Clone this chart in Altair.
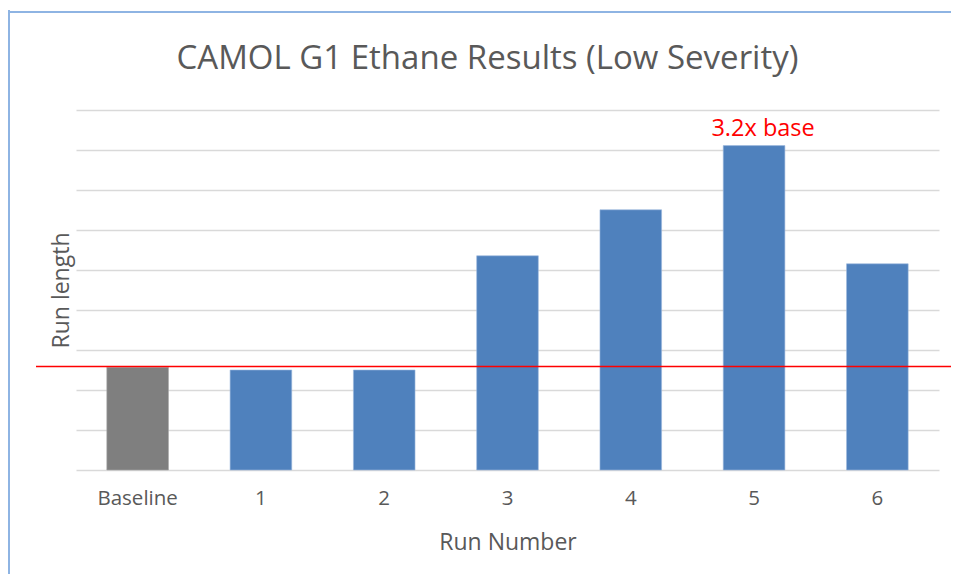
import altair as alt
import pandas as pd

runs = ["Baseline", "1", "2", "3", "4", "5", "6"]
run_length = [2.57, 2.5, 2.5, 5.355, 6.505, 8.11, 5.155]
kinds = ["base", "run", "run", "run", "run", "run", "run"]
baseline_level = [2.59]
note_run = ["5"]
note_text = ["3.2x base"]
grid_values = [0, 1, 2, 3, 4, 5, 6, 7, 8, 9]

FONT = "Open Sans"
GREY = "#595959"

df = pd.DataFrame({"run": runs, "value": run_length, "kind": kinds})
ref = pd.DataFrame({"level": baseline_level})
note = pd.DataFrame({"run": note_run, "text": note_text,
                     "value": [run_length[runs.index(r)] for r in note_run]})

y_scale = alt.Scale(domain=[0, 9], nice=False)
x_scale = alt.Scale(domain=runs, paddingInner=0.5, paddingOuter=0.25)
x_axis = alt.Axis(title="Run Number", labelAngle=0, domain=False, ticks=False,
                  labelFont=FONT, labelFontSize=20.5, labelColor=GREY,
                  labelPadding=18, titleFont=FONT, titleFontSize=23,
                  titleFontWeight="normal", titleColor=GREY, titlePadding=23)
y_axis = alt.Axis(title="Run length", values=grid_values, labels=False,
                  ticks=False, domain=False, grid=True, gridColor="#D9D9D9",
                  gridWidth=1.5, titleFont=FONT, titleFontSize=23,
                  titleFontWeight="normal", titleColor=GREY, titlePadding=3)

bars = alt.Chart(df).mark_bar(strokeWidth=1, strokeOpacity=0.6).encode(
    x=alt.X("run:N", sort=runs, scale=x_scale, axis=x_axis),
    y=alt.Y("value:Q", scale=y_scale, axis=y_axis),
    color=alt.Color("kind:N", scale=alt.Scale(domain=["base", "run"],
                                              range=["#7F7F7F", "#4F81BD"]), legend=None),
    stroke=alt.Stroke("kind:N", scale=alt.Scale(domain=["base", "run"],
                                                range=["#A6A6A6", "#9DB9DE"]), legend=None),
)

rule = alt.Chart(ref).mark_rule(color="#FF0000", strokeWidth=1.5).encode(
    y=alt.Y("level:Q", scale=y_scale, axis=y_axis),
    x=alt.value(-40), x2=alt.value(879),
)

label = alt.Chart(note).mark_text(color="#FF0000", font=FONT, fontSize=23.5,
                                  baseline="bottom", dy=-5, dx=9).encode(
    x=alt.X("run:N", sort=runs, scale=x_scale, axis=x_axis),
    y=alt.Y("value:Q", scale=y_scale, axis=y_axis),
    text="text:N",
)

frame_left = alt.Chart(ref).mark_rule(color="#8EB4E3", strokeWidth=2).encode(
    x=alt.value(-67), y=alt.value(-100), y2=alt.value(470))
frame_top = alt.Chart(ref).mark_rule(color="#8EB4E3", strokeWidth=2).encode(
    x=alt.value(-68), x2=alt.value(880), y=alt.value(-98))

chart = alt.layer(frame_left, frame_top, bars, rule, label).properties(
    width=863, height=360,
    autosize=alt.AutoSizeParams(type="none"),
    padding={"left": 68, "top": 102, "right": 12, "bottom": 104},
    title=alt.TitleParams("CAMOL G1 Ethane Results (Low Severity)", font=FONT,
                          fontSize=33, fontWeight="normal", color=GREY,
                          anchor="middle", frame="group", dx=-20, offset=0, dy=67),
).configure(background="white", view=alt.ViewConfig(stroke=None))

chart.save("out.html", embed_options={"renderer": "svg", "actions": False})
